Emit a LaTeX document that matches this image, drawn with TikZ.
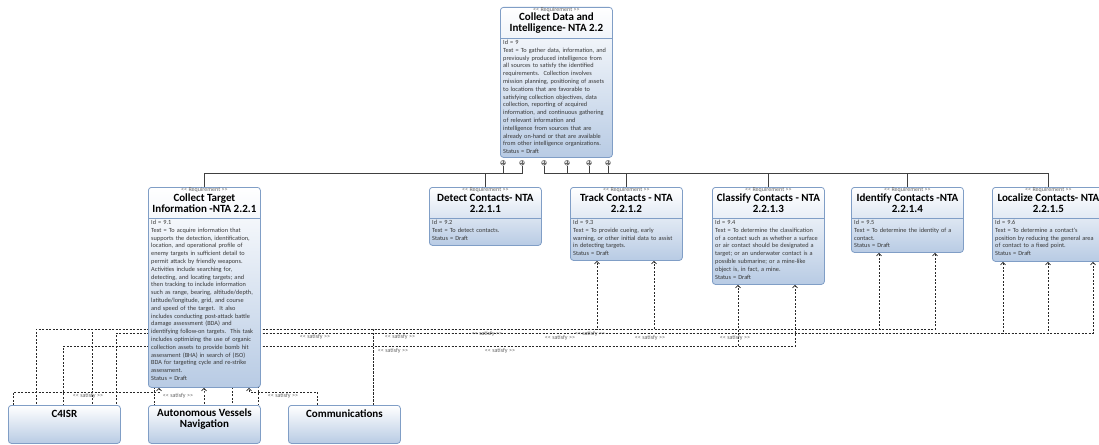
\documentclass[tikz,border=0pt]{standalone}
\usepackage{fontspec}
\newfontfamily\uifont{Carlito}
\usetikzlibrary{arrows.meta,positioning,backgrounds,calc}
\definecolor{reqedge}{RGB}{128,158,198}
\definecolor{reqfill}{RGB}{184,203,228}
\definecolor{linkgray}{RGB}{40,40,40}
\definecolor{stereogray}{RGB}{100,100,100}
\tikzset{>={Straight Barb[length=2.5pt,width=5pt]}}
\tikzset{
  reqbox/.style={draw=reqedge, line width=0.8pt, rounded corners=3pt, top color=white,
    bottom color=reqfill, anchor=north west, minimum width=112pt, inner sep=0pt},
  stereo/.style={font=\uifont\fontsize{6}{6}\selectfont, text=stereogray, inner sep=0pt},
  reqtitle/.style={font=\uifont\bfseries\fontsize{11}{11}\selectfont, align=center, inner sep=0pt},
  reqbody/.style={font=\uifont\fontsize{6.3}{7.8}\selectfont, text=black!78, align=left,
    text width=108pt, anchor=north west, inner sep=0pt},
  divider/.style={draw=reqedge, line width=0.6pt},
  compdot/.style={circle, draw=black!60, fill=black!12, inner sep=0pt, minimum size=5pt,
    path picture={\draw[black!60, line width=0.4pt]
      (path picture bounding box.north) -- (path picture bounding box.south)
      (path picture bounding box.west) -- (path picture bounding box.east);}},
  compline/.style={draw=black!75, line width=0.8pt},
  satisfy/.style={draw=linkgray, ->, line width=0.7pt, dash pattern=on 2pt off 1.5pt},
  satlabel/.style={font=\uifont\fontsize{6}{6}\selectfont, text=stereogray, inner sep=0pt}
}

\begin{document}
\begin{tikzpicture}[x=1pt, y=-1pt]
\useasboundingbox (0,0) rectangle (1099,444);
\clip (0,0) rectangle (1099,444);

% top requirement
\node[reqbox, minimum height=150pt] (cdi) at (500,7) {};
\node[stereo] (cdis) at ([yshift=-2.5pt]cdi.north) {<< Requirement >>};
\node[reqtitle] (cdit) at ([yshift=-16pt]cdi.north) {Collect Data and\\Intelligence- NTA 2.2};
\draw[divider] ([yshift=-31pt]cdi.north west) -- ([yshift=-31pt]cdi.north east);
\node[reqbody] (cdib) at ([xshift=3pt,yshift=-33pt]cdi.north west) {Id = 9\\
Text = To gather data, information, and\\
previously produced intelligence from\\
all sources to satisfy the identified\\
requirements.\ \ Collection involves\\
mission planning, positioning of assets\\
to locations that are favorable to\\
satisfying collection objectives, data\\
collection, reporting of acquired\\
information, and continuous gathering\\
of relevant information and\\
intelligence from sources that are\\
already on-hand or that are available\\
from other intelligence organizations.\\
Status = Draft};

% child requirements
\node[reqbox, minimum height=200pt] (ct) at (148,187) {};
\node[stereo] (cts) at ([yshift=-2.5pt]ct.north) {<< Requirement >>};
\node[reqtitle] (ctt) at ([yshift=-16pt]ct.north) {Collect Target\\Information -NTA 2.2.1};
\draw[divider] ([yshift=-31pt]ct.north west) -- ([yshift=-31pt]ct.north east);
\node[reqbody] (ctb) at ([xshift=3pt,yshift=-33pt]ct.north west) {Id = 9.1\\
Text = To acquire information that\\
supports the detection, identification,\\
location, and operational profile of\\
enemy targets in sufficient detail to\\
permit attack by friendly weapons.\\
Activities include searching for,\\
detecting, and locating targets; and\\
then tracking to include information\\
such as range, bearing, altitude/depth,\\
latitude/longitude, grid, and course\\
and speed of the target.\ \ It also\\
includes conducting post-attack battle\\
damage assessment (BDA) and\\
identifying follow-on targets.\ \ This task\\
includes optimizing the use of organic\\
collection assets to provide bomb hit\\
assessment (BHA) in search of (ISO)\\
BDA for targeting cycle and re-strike\\
assessment.\\
Status = Draft};

\node[reqbox, minimum height=58pt] (dc) at (429,187) {};
\node[stereo] (dcs) at ([yshift=-2.5pt]dc.north) {<< Requirement >>};
\node[reqtitle] (dct) at ([yshift=-16pt]dc.north) {Detect Contacts- NTA\\2.2.1.1};
\draw[divider] ([yshift=-31pt]dc.north west) -- ([yshift=-31pt]dc.north east);
\node[reqbody] (dcb) at ([xshift=3pt,yshift=-33pt]dc.north west) {Id = 9.2\\
Text = To detect contacts.\\
Status = Draft};

\node[reqbox, minimum height=73pt] (tc) at (570,187) {};
\node[stereo] (tcs) at ([yshift=-2.5pt]tc.north) {<< Requirement >>};
\node[reqtitle] (tct) at ([yshift=-16pt]tc.north) {Track Contacts - NTA\\2.2.1.2};
\draw[divider] ([yshift=-31pt]tc.north west) -- ([yshift=-31pt]tc.north east);
\node[reqbody] (tcb) at ([xshift=3pt,yshift=-33pt]tc.north west) {Id = 9.3\\
Text = To provide cueing, early\\
warning, or other initial data to assist\\
in detecting targets.\\
Status = Draft};

\node[reqbox, minimum height=97pt] (cc) at (712,187) {};
\node[stereo] (ccs) at ([yshift=-2.5pt]cc.north) {<< Requirement >>};
\node[reqtitle] (cct) at ([yshift=-16pt]cc.north) {Classify Contacts - NTA\\2.2.1.3};
\draw[divider] ([yshift=-31pt]cc.north west) -- ([yshift=-31pt]cc.north east);
\node[reqbody] (ccb) at ([xshift=3pt,yshift=-33pt]cc.north west) {Id = 9.4\\
Text = To determine the classification\\
of a contact such as whether a surface\\
or air contact should be designated a\\
target; or an underwater contact is a\\
possible submarine; or a mine-like\\
object is, in fact, a mine.\\
Status = Draft};

\node[reqbox, minimum height=65pt] (ic) at (851,187) {};
\node[stereo] (ics) at ([yshift=-2.5pt]ic.north) {<< Requirement >>};
\node[reqtitle] (ict) at ([yshift=-16pt]ic.north) {Identify Contacts -NTA\\2.2.1.4};
\draw[divider] ([yshift=-31pt]ic.north west) -- ([yshift=-31pt]ic.north east);
\node[reqbody] (icb) at ([xshift=3pt,yshift=-33pt]ic.north west) {Id = 9.5\\
Text = To determine the identity of a\\
contact.\\
Status = Draft};

\node[reqbox, minimum height=74pt] (lc) at (992,187) {};
\node[stereo] (lcs) at ([yshift=-2.5pt]lc.north) {<< Requirement >>};
\node[reqtitle] (lct) at ([yshift=-16pt]lc.north) {Localize Contacts- NTA\\2.2.1.5};
\draw[divider] ([yshift=-31pt]lc.north west) -- ([yshift=-31pt]lc.north east);
\node[reqbody] (lcb) at ([xshift=3pt,yshift=-33pt]lc.north west) {Id = 9.6\\
Text = To determine a contact's\\
position by reducing the general area\\
of contact to a fixed point.\\
Status = Draft};

% blocks
\node[reqbox, minimum height=38pt] (c4) at (8,405) {};
\node[reqtitle] (c4t) at ([yshift=-8.5pt]c4.north) {C4ISR};
\node[reqbox, minimum height=38pt] (avn) at (148,405) {};
\node[reqtitle] (avnt) at ([yshift=-14pt]avn.north) {Autonomous Vessels\\Navigation};
\node[reqbox, minimum height=38pt] (com) at (288,405) {};
\node[reqtitle] (comt) at ([yshift=-8.5pt]com.north) {Communications};

% containment
\foreach \i/\dx in {1/3,2/22,3/44,4/67,5/89,6/108}
  \node[compdot] (p\i) at ([xshift=\dx pt,yshift=-5pt]cdi.south west) {};
\coordinate (bus) at (0,173);
\draw[compline] (p1) -- (p1 |- bus) -| (ct.north);
\draw[compline] (p2) -- (p2 |- bus) -| (dc.north);
\draw[compline] (p3) -- (p3 |- bus) -| (tc.north);
\draw[compline] (p4) -- (p4 |- bus) -| (cc.north);
\draw[compline] (p5) -- (p5 |- bus) -| (ic.north);
\draw[compline] (p6) -- (p6 |- bus) -| (lc.north);

% satisfy
\coordinate (railA) at (0,329);
\coordinate (railB) at (0,333);
\coordinate (railC) at (0,346);
\coordinate (railD) at (0,392);
\begin{scope}[on background layer]
\foreach \src/\sx/\rail/\dst/\dx in {c4/28/railA/tc/27, c4/84/railA/ic/84, c4/55/railC/cc/83,
    c4/108/railB/lc/101, avn/6/railA/tc/84, avn/84/railC/cc/26, avn/110/railB/lc/56,
    com/85/railA/ic/28, com/85/railB/lc/11, c4/5/railD/ct/11, avn/56/railD/ct/56, com/29/railD/ct/101}
  \draw[satisfy] let \p1=([xshift=\sx pt]\src.north west), \p2=(\rail) in
    [dash phase={\x1-(\y2)+(\y1)+700pt}]
    (\p1) -- (\x1,\y2) -| ([xshift=\dx pt]\dst.south west);
\end{scope}
\foreach \lx/\ly [count=\i] in {88/396, 178/396, 283/396, 315/337, 400/337, 487/334,
    393/351, 500/351, 560/338, 590/334, 650/338, 735/338}
  \node[satlabel] (sl\i) at (\lx,\ly) {<< satisfy >>};
\end{tikzpicture}
\end{document}
